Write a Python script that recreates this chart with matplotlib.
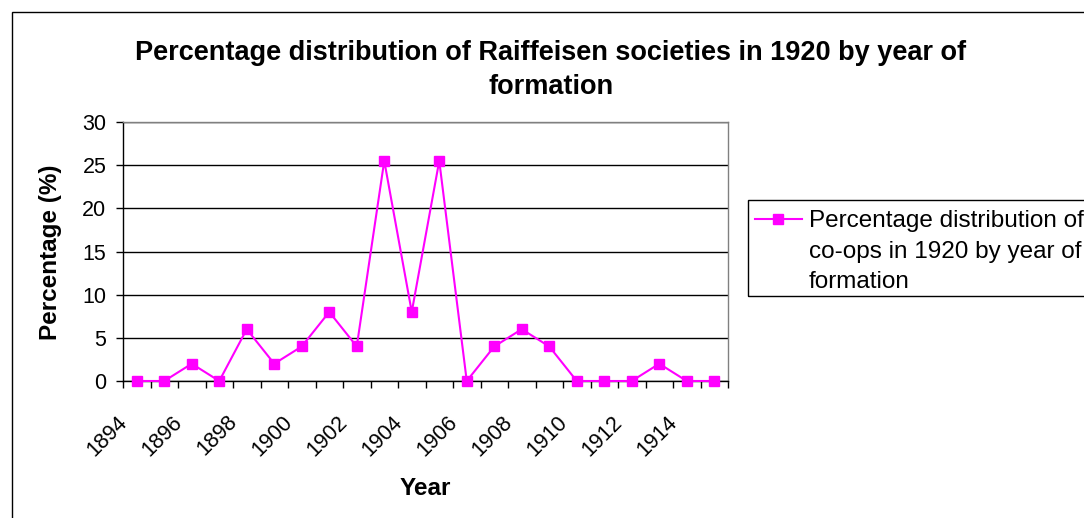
import matplotlib
matplotlib.use('Agg')
import matplotlib.pyplot as plt
import matplotlib.patches as mpatches
from matplotlib.lines import Line2D
from matplotlib.transforms import ScaledTranslation
import numpy as np

plt.rcParams['font.family'] = ['Liberation Sans', 'DejaVu Sans']

# data
years = list(range(1894, 1916))
pct = [0, 0, 2, 0, 6, 2, 4, 8, 4, 25.5, 8, 25.5, 0, 4, 6, 4, 0, 0, 0, 2, 0, 0]
legend_lines = ['Percentage distribution of', 'co-ops in 1920 by year of', 'formation']
title = 'Percentage distribution of Raiffeisen societies in 1920 by year of\nformation'

W, H = 1084, 518
fig = plt.figure(figsize=(W/100, H/100), dpi=100)

def fx(px):
    return px / W

def fy(py):
    return 1 - py / H

# axes box in pixels: left 123, right 728, top 122, bottom 381
ax = fig.add_axes([fx(123), fy(381), (728-123)/W, (381-122)/H])

x = np.arange(len(years))
ax.plot(x, pct, color='#ff00ff', lw=1.5, marker='s', ms=7.5,
        mec='#ff00ff', mfc='#ff00ff', clip_on=False, zorder=5)

ax.set_xlim(-0.5, len(years) - 0.5)
ax.set_ylim(0, 30)
ax.set_yticks(np.arange(0, 31, 5))
ax.yaxis.grid(True, color='black', lw=1)
ax.set_axisbelow(True)

# tick marks between categories, labels every second year
ax.set_xticks(np.arange(-0.5, len(years), 1), minor=True)
ax.set_xticks(x[::2])
ax.set_xticklabels([str(y) for y in years[::2]], rotation=45, ha='right',
                   rotation_mode='anchor')
ax.tick_params(axis='x', which='major', length=0, pad=22, labelsize=15.5)
ax.tick_params(axis='x', which='minor', length=5, width=1, direction='out')
ax.tick_params(axis='y', length=5, width=1, direction='out', labelsize=15.5, pad=7)
shift = ScaledTranslation(-20/100, 0, fig.dpi_scale_trans)
for lab in ax.get_xticklabels():
    lab.set_transform(lab.get_transform() + shift)

for s in ['left', 'bottom']:
    ax.spines[s].set_color('black')
    ax.spines[s].set_linewidth(1)
for s in ['top', 'right']:
    ax.spines[s].set_color('#808080')
    ax.spines[s].set_linewidth(1)

ax.set_ylabel('Percentage (%)', fontsize=17.5, fontweight='bold')
ax.set_xlabel('Year', fontsize=17.5, fontweight='bold')
ax.xaxis.set_label_coords((425-123)/(728-123), 1 - (477-122)/(381-122))
ax.yaxis.set_label_coords((62-123)/(728-123), 1 - (252-122)/(381-122))

fig.text(fx(551), fy(70), title, ha='center', va='center', fontsize=19.5,
         fontweight='bold', linespacing=1.4)

# legend box (runs off the right edge like the original)
fig.patches.append(mpatches.Rectangle((fx(748), fy(296)), 0.5, (296-200)/H,
                                      transform=fig.transFigure, fill=False,
                                      edgecolor='black', lw=1))
fig.lines.append(Line2D([fx(755), fx(802)], [fy(219), fy(219)],
                        transform=fig.transFigure, color='#ff00ff', lw=1.5))
fig.lines.append(Line2D([fx(778)], [fy(219)], transform=fig.transFigure,
                        marker='s', ms=6.5, color='#ff00ff'))
for i, txt in enumerate(legend_lines):
    fig.text(fx(809), fy(219 + 30.5*i), txt, ha='left', va='center_baseline',
             fontsize=17.5)

# chart area border
fig.patches.append(mpatches.Rectangle((fx(12), -0.1), 1.2, 1 - 12/H + 0.1,
                                      transform=fig.transFigure, fill=False,
                                      edgecolor='black', lw=1))

fig.savefig('out.png', dpi=100)
